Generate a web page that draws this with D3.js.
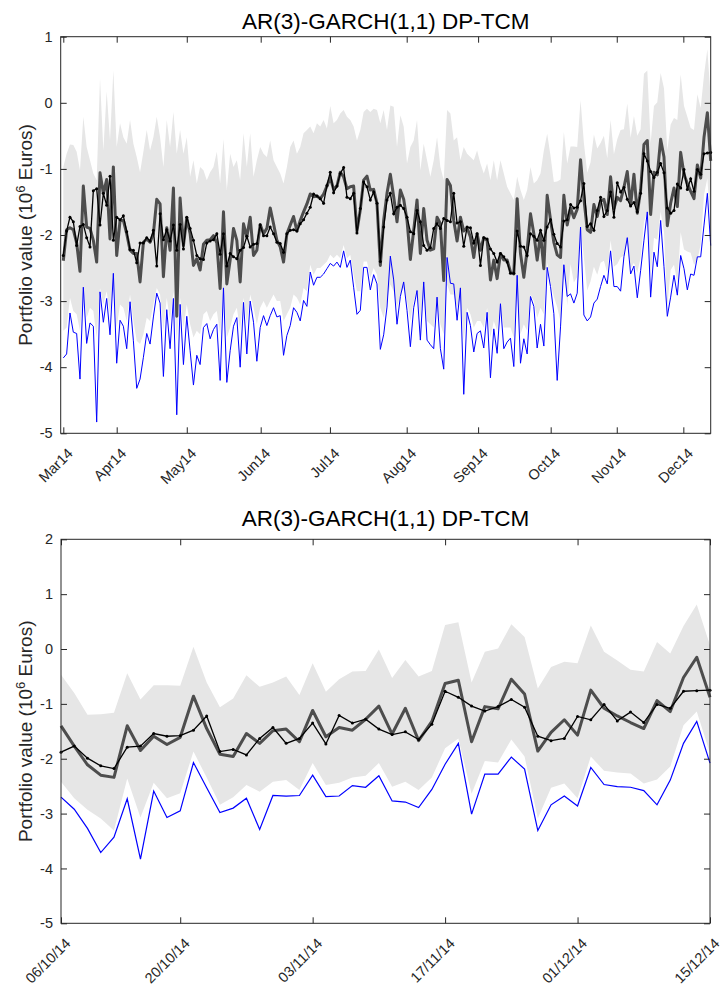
<!DOCTYPE html>
<html>
<head>
<meta charset="utf-8">
<script src="https://cdn.jsdelivr.net/npm/d3@7"></script>
<style>
  body { margin: 0; background: #fff; }
  text { font-family: "Liberation Sans", Arial, Helvetica, sans-serif; }
</style>
</head>
<body>
<div id="container"></div>
<script>
// ---- zoomed panel: 06/10/14 .. 15/12/14 (last 50 trading days) ----
const zoomTickPos = [0, 9, 19, 29, 39, 49];
const zoomTickLabels = ["06/10/14", "20/10/14", "03/11/14", "17/11/14", "01/12/14", "15/12/14"];

const zoomUpper = [-0.47, -0.80, -1.20, -1.19, -1.16, -0.44, -0.92, -0.66, -0.66, -0.67,
  0.04, -0.61, -1.06, -0.90, -0.48, -0.69, -0.61, -0.50, -0.84, -0.26,
  -0.78, -0.55, -0.41, -0.40, -0.01, -0.53, -0.20, -0.50, -0.40, 0.44,
  0.49, -0.61, -0.05, 0.01, 0.45, 0.22, -0.72, -0.33, -0.23, -0.26,
  0.43, -0.05, -0.21, -0.38, -0.41, 0.13, -0.08, 0.42, 0.81, 0.07];

const zoomLower = [-2.42, -2.72, -2.93, -3.09, -3.31, -2.36, -3.07, -2.44, -2.72, -2.63,
  -1.87, -2.34, -2.84, -2.70, -2.48, -2.60, -2.42, -2.39, -2.57, -2.08,
  -2.48, -2.44, -2.34, -2.31, -2.08, -2.51, -2.42, -2.57, -2.34, -1.81,
  -1.63, -2.64, -2.04, -2.07, -1.65, -1.96, -3.09, -2.53, -2.45, -2.72,
  -1.96, -2.22, -2.25, -2.27, -2.45, -2.38, -2.14, -1.39, -1.14, -1.90];

const zoomActual = [-1.40, -1.77, -2.11, -2.30, -2.34, -1.40, -1.85, -1.59, -1.74, -1.61,
  -0.86, -1.45, -1.92, -1.96, -1.54, -1.72, -1.49, -1.46, -1.69, -1.12,
  -1.60, -1.43, -1.48, -1.28, -1.04, -1.55, -1.08, -1.67, -1.32, -0.63,
  -0.57, -1.69, -1.05, -1.09, -0.55, -0.82, -1.86, -1.52, -1.29, -1.57,
  -0.75, -1.08, -1.22, -1.34, -1.45, -0.94, -1.14, -0.52, -0.15, -0.88];

const zoomMean = [-1.88, -1.77, -1.99, -2.13, -2.18, -1.79, -1.77, -1.54, -1.59, -1.58,
  -1.48, -1.22, -1.87, -1.83, -1.93, -1.63, -1.43, -1.72, -1.63, -1.35,
  -1.73, -1.21, -1.35, -1.28, -1.46, -1.56, -1.51, -1.65, -1.37, -0.77,
  -0.88, -1.04, -1.13, -1.05, -0.92, -1.06, -1.59, -1.67, -1.63, -1.23,
  -1.29, -1.01, -1.31, -1.15, -1.34, -1.01, -1.08, -0.77, -0.76, -0.75];

const zoomVaR = [-2.70, -2.92, -3.27, -3.71, -3.43, -2.73, -3.83, -2.59, -3.07, -2.95,
  -2.07, -2.53, -2.98, -2.90, -2.72, -3.29, -2.67, -2.68, -2.67, -2.30,
  -2.69, -2.68, -2.49, -2.52, -2.31, -2.77, -2.79, -2.89, -2.56, -2.10,
  -1.72, -3.01, -2.28, -2.28, -1.97, -2.19, -3.31, -2.84, -2.68, -2.86,
  -2.16, -2.47, -2.51, -2.52, -2.58, -2.84, -2.39, -1.72, -1.32, -2.08];

// ---- full panel: Mar14 .. Dec14, first 145 days (the rest is the zoomed window) ----
const fullTickPos = [0, 16, 37, 59.15, 79.9, 102.9, 124.3, 146.05, 165.85, 185.8];
const fullTickLabels = ["Mar14", "Apr14", "May14", "Jun14", "Jul14", "Aug14", "Sep14", "Oct14", "Nov14", "Dec14"];

const fullUpperHead = [-0.97, -0.77, -0.63, -0.64, -0.74, -1.02, -0.21, -0.67, -0.87, -1.07,
  -1.17, 0.37, -0.72, 0.17, -0.57, 0.49, -0.67, -0.31, -0.52, -0.62,
  -0.26, -0.62, -0.82, -1.05, -0.74, -0.41, -0.72, -0.52, -0.21, -0.52,
  -0.97, -0.26, -0.67, -0.14, -0.77, -0.41, -0.77, -0.52, -1.12, -0.87,
  -1.22, -0.97, -1.02, -1.17, -1.05, -0.97, -0.74, -1.22, -0.55, -1.32,
  -0.77, -0.97, -0.87, -1.17, -0.46, -0.97, -0.46, -1.12, -0.87, -0.67,
  -0.77, -0.82, -0.57, -0.87, -0.97, -1.07, -1.22, -0.97, -0.67, -0.57,
  -0.77, -0.67, -0.46, -0.41, -0.36, -0.46, -0.31, -0.36, -0.26, -0.39,
  -0.05, -0.31, -0.26, -0.16, -0.11, -0.21, -0.26, -0.36, -0.57, -0.41,
  -0.14, -0.09, -0.14, -0.09, -0.11, -0.31, -0.11, -0.41, -0.04, -0.06,
  -0.67, -0.19, -0.36, -0.92, -0.67, -0.57, -0.26, -1.02, -0.62, -0.87,
  -1.12, -0.87, -0.52, -0.97, -1.17, -0.11, -0.16, -0.57, -0.52, -0.87,
  -0.67, -0.77, -0.82, -0.87, -0.72, -0.92, -1.07, -0.92, -1.17, -0.87,
  -1.17, -0.87, -1.07, -1.27, -1.37, -1.47, -1.12, -1.32, -1.47, -1.32,
  -0.97, -1.22, -1.17, -1.07, -0.72];

const fullLowerHead = [-3.45, -3.40, -2.95, -3.15, -3.20, -3.45, -2.85, -3.25, -3.10, -3.15,
  -3.55, -2.80, -3.05, -2.85, -3.20, -2.70, -3.40, -3.05, -3.10, -3.30,
  -2.90, -3.30, -3.60, -3.65, -3.50, -3.25, -3.30, -3.05, -2.80, -2.90,
  -3.45, -2.95, -3.30, -2.85, -3.60, -2.95, -3.40, -3.05, -3.35, -3.55,
  -3.45, -3.50, -3.20, -3.15, -3.30, -3.20, -3.15, -3.50, -2.80, -3.55,
  -3.40, -3.20, -3.10, -3.45, -2.95, -3.35, -2.90, -3.10, -3.35, -3.10,
  -3.00, -3.10, -3.00, -2.90, -3.00, -3.00, -3.30, -3.20, -3.10, -2.90,
  -2.95, -3.05, -2.80, -2.85, -2.45, -2.60, -2.50, -2.50, -2.45, -2.40,
  -2.30, -2.35, -2.30, -2.35, -2.15, -2.35, -2.30, -2.60, -2.85, -2.85,
  -2.40, -2.40, -2.65, -2.50, -2.60, -3.10, -3.25, -3.00, -2.75, -2.85,
  -3.10, -2.90, -2.80, -3.00, -3.30, -3.00, -2.85, -3.25, -2.85, -3.30,
  -3.35, -3.40, -3.00, -3.35, -3.50, -2.75, -2.90, -2.90, -3.10, -2.95,
  -3.60, -3.10, -3.20, -3.40, -3.30, -3.30, -3.40, -3.10, -3.55, -3.30,
  -3.45, -3.05, -3.40, -3.40, -3.40, -3.55, -2.85, -3.50, -3.35, -3.45,
  -2.90, -3.00, -3.25, -3.10, -3.20];

const fullActualHead = [-2.39, -1.92, -1.89, -1.92, -2.12, -2.55, -1.26, -1.88, -1.90, -2.08,
  -2.41, -1.06, -1.37, -1.16, -2.06, -0.97, -2.31, -1.78, -1.78, -1.98,
  -2.23, -2.28, -2.28, -2.71, -2.11, -2.06, -2.11, -1.98, -1.46, -1.53,
  -2.63, -1.89, -2.23, -1.29, -3.23, -1.44, -2.16, -1.74, -1.98, -2.46,
  -2.36, -2.53, -2.14, -2.08, -2.07, -2.01, -2.12, -2.81, -1.65, -2.74,
  -2.38, -1.90, -2.08, -2.71, -1.83, -2.03, -1.73, -2.31, -2.23, -1.84,
  -1.98, -1.90, -1.59, -1.83, -2.08, -2.18, -2.41, -1.98, -1.85, -1.72,
  -1.94, -1.78, -1.65, -1.53, -1.38, -1.42, -1.41, -1.45, -1.38, -1.26,
  -1.13, -1.31, -1.26, -1.05, -1.12, -1.30, -1.27, -1.26, -1.94, -1.62,
  -1.17, -1.11, -1.32, -1.31, -1.52, -2.46, -1.78, -1.37, -1.08, -1.42,
  -1.80, -1.32, -1.46, -1.78, -2.37, -1.93, -1.47, -2.28, -1.60, -2.08,
  -2.23, -2.21, -1.73, -1.83, -2.69, -1.16, -1.25, -1.78, -2.09, -1.73,
  -1.94, -1.89, -2.03, -2.34, -1.98, -2.23, -2.04, -2.08, -2.68, -2.38,
  -2.66, -2.28, -2.38, -2.38, -2.56, -2.59, -1.45, -2.28, -2.64, -2.23,
  -1.68, -1.98, -2.38, -1.98, -2.51];

const fullMeanHead = [-2.31, -1.94, -1.73, -1.80, -2.16, -1.87, -1.84, -2.04, -2.18, -1.33,
  -1.30, -1.85, -1.37, -1.55, -1.11, -2.08, -1.73, -1.77, -1.71, -1.95,
  -2.22, -2.23, -2.42, -2.12, -2.12, -2.04, -2.09, -1.93, -2.47, -1.68,
  -2.07, -1.92, -2.09, -1.85, -2.23, -1.84, -2.21, -1.73, -1.90, -2.08,
  -2.31, -2.36, -2.37, -2.12, -2.09, -2.07, -1.98, -2.29, -1.98, -2.47,
  -2.28, -2.33, -2.36, -2.23, -2.19, -2.02, -2.18, -2.14, -2.13, -1.85,
  -2.01, -2.01, -1.88, -1.98, -2.11, -2.13, -2.26, -1.98, -1.93, -1.92,
  -1.94, -1.83, -1.77, -1.67, -1.58, -1.38, -1.41, -1.45, -1.52, -1.25,
  -1.05, -1.36, -1.26, -1.07, -0.98, -1.43, -1.45, -1.37, -1.97, -1.60,
  -1.20, -1.27, -1.47, -1.35, -1.52, -2.40, -1.88, -1.47, -1.37, -1.68,
  -1.58, -1.55, -1.60, -1.73, -1.95, -1.98, -1.63, -1.80, -2.16, -2.23,
  -2.19, -1.90, -1.83, -1.90, -1.75, -1.78, -1.80, -1.37, -1.82, -1.80,
  -2.17, -1.88, -1.89, -2.12, -1.98, -2.46, -2.04, -2.06, -2.21, -2.28,
  -2.41, -2.28, -2.33, -2.41, -2.58, -2.58, -1.94, -2.17, -2.18, -2.31,
  -1.98, -2.02, -2.08, -1.93, -2.08];

const fullVaR = [-3.86, -3.80, -3.18, -3.47, -3.49, -4.18, -2.79, -3.64, -3.33, -3.38,
  -4.83, -2.86, -3.32, -2.96, -3.51, -2.58, -3.94, -3.29, -3.38, -3.72,
  -3.01, -3.60, -4.32, -4.18, -3.85, -3.49, -3.65, -3.24, -2.88, -3.03,
  -4.14, -3.13, -3.72, -2.96, -4.72, -3.05, -3.96, -3.23, -3.75, -4.27,
  -3.82, -3.96, -3.40, -3.34, -3.57, -3.43, -3.35, -4.20, -2.80, -4.23,
  -3.75, -3.38, -3.25, -4.00, -3.02, -3.80, -3.00, -3.32, -3.91, -3.40,
  -3.22, -3.37, -3.22, -3.10, -3.24, -3.22, -3.82, -3.52, -3.37, -3.10,
  -3.17, -3.30, -2.99, -3.08, -2.56, -2.76, -2.64, -2.64, -2.59, -2.51,
  -2.43, -2.47, -2.41, -2.49, -2.24, -2.49, -2.38, -2.79, -3.20, -3.14,
  -2.49, -2.49, -2.83, -2.60, -2.74, -3.73, -3.51, -3.09, -2.32, -2.68,
  -3.35, -2.93, -2.71, -3.14, -3.69, -3.10, -2.84, -3.59, -2.71, -3.59,
  -3.66, -3.72, -2.94, -3.72, -4.03, -2.34, -2.73, -2.74, -3.29, -2.80,
  -4.41, -3.17, -3.37, -3.77, -3.49, -3.45, -3.71, -3.17, -4.16, -3.42,
  -3.79, -3.04, -3.72, -3.62, -3.56, -3.99, -2.61, -3.94, -3.57, -3.80,
  -2.93, -3.08, -3.71, -3.35, -3.68, -2.49, -2.78, -3.19, -4.20, -3.39,
  -2.45, -2.93, -2.89, -3.03, -2.88, -1.88, -3.21, -3.30, -3.24, -3.03,
  -2.97, -2.78, -2.61, -2.74, -2.24, -2.78, -2.78, -2.85, -2.33, -2.04,
  -2.59, -2.47, -2.95, -2.54, -2.08, -1.65, -2.94, -2.26, -2.48, -1.78,
  -2.48, -3.23, -2.94, -2.61, -2.91, -2.31, -2.51, -2.83, -2.59, -2.61,
  -2.33, -2.33, -1.85, -1.37, -2.16];

const title = "AR(3)-GARCH(1,1) DP-TCM";

const svg = d3.select("#container").append("svg")
  .attr("width", 722)
  .attr("height", 987);

const axisColor = "#262626";

function drawPanel(p) {
  const g = svg.append("g");
  const n = p.upper.length;
  const x = d3.scaleLinear().domain([p.xStart, n - 1]).range([p.left, p.right]);
  const y = d3.scaleLinear().domain(p.yDomain).range([p.bottom, p.top]);

  // forecast interval
  g.append("path")
    .datum(d3.range(n))
    .attr("fill", "#e6e6e6")
    .attr("d", d3.area()
      .x((i) => x(i))
      .y0((i) => y(p.lower[i]))
      .y1((i) => y(p.upper[i])));

  const line = d3.line().x((d, i) => x(i)).y((d) => y(d));

  g.append("path")
    .attr("d", line(p.actual))
    .attr("fill", "none")
    .attr("stroke", "#4d4d4d")
    .attr("stroke-width", 3)
    .attr("stroke-linejoin", "round");

  g.append("path")
    .attr("d", line(p.mean))
    .attr("fill", "none")
    .attr("stroke", "#000")
    .attr("stroke-width", 1.3);

  g.selectAll(".dot")
    .data(p.mean)
    .enter()
    .append("circle")
    .attr("cx", (d, i) => x(i))
    .attr("cy", (d) => y(d))
    .attr("r", 1.5)
    .attr("fill", "#000");

  g.append("path")
    .attr("d", line(p.var))
    .attr("fill", "none")
    .attr("stroke", "#0000ff")
    .attr("stroke-width", p.varWidth);

  // axes, ticks pointing inward on all four sides
  const yTicks = d3.range(p.yDomain[0], p.yDomain[1] + 1);

  const left = g.append("g")
    .attr("transform", `translate(${p.left},0)`)
    .call(d3.axisLeft(y).tickValues(yTicks).tickSize(-6).tickSizeOuter(0).tickPadding(8)
      .tickFormat((d) => String(d)));
  g.append("g")
    .attr("transform", `translate(${p.right},0)`)
    .call(d3.axisRight(y).tickValues(yTicks).tickSize(-6).tickSizeOuter(0).tickFormat(""));
  const bottom = g.append("g")
    .attr("transform", `translate(0,${p.bottom})`)
    .call(d3.axisBottom(x).tickValues(p.ticks).tickSize(-6).tickSizeOuter(0)
      .tickFormat((d, i) => p.tickLabels[i]));
  g.append("g")
    .attr("transform", `translate(0,${p.top})`)
    .call(d3.axisTop(x).tickValues(p.ticks).tickSize(-6).tickSizeOuter(0).tickFormat(""));

  g.selectAll(".domain").remove();
  g.selectAll(".tick line").attr("stroke", axisColor);

  left.selectAll("text")
    .attr("font-size", 14.5)
    .attr("fill", axisColor);

  bottom.selectAll("text")
    .attr("font-size", 14.5)
    .attr("fill", axisColor)
    .attr("text-anchor", "end")
    .attr("x", 0).attr("y", 0).attr("dy", 0)
    .attr("transform", "translate(10,21) rotate(-45)");

  g.append("rect")
    .attr("x", p.left)
    .attr("y", p.top)
    .attr("width", p.right - p.left)
    .attr("height", p.bottom - p.top)
    .attr("fill", "none")
    .attr("stroke", axisColor)
    .attr("stroke-width", 1);

  g.append("text")
    .attr("x", (p.left + p.right) / 2)
    .attr("y", p.titleY)
    .attr("text-anchor", "middle")
    .attr("font-size", 22.5)
    .attr("fill", "#000")
    .text(title);

  const yl = g.append("text")
    .attr("transform", `translate(32,${(p.top + p.bottom) / 2}) rotate(-90)`)
    .attr("text-anchor", "middle")
    .attr("font-size", 19)
    .attr("fill", axisColor);
  yl.append("tspan").text("Portfolio value (10");
  yl.append("tspan").attr("dy", -7).attr("font-size", 13).text("6");
  yl.append("tspan").attr("dy", 7).text(" Euros)");
}

drawPanel({
  upper: fullUpperHead.concat(zoomUpper),
  lower: fullLowerHead.concat(zoomLower),
  actual: fullActualHead.concat(zoomActual),
  mean: fullMeanHead.concat(zoomMean),
  var: fullVaR,
  varWidth: 1,
  xStart: -0.78,
  ticks: fullTickPos,
  tickLabels: fullTickLabels,
  yDomain: [-5, 1],
  left: 60.7, right: 710.7, top: 36.7, bottom: 433.3,
  titleY: 29
});

drawPanel({
  upper: zoomUpper,
  lower: zoomLower,
  actual: zoomActual,
  mean: zoomMean,
  var: zoomVaR,
  varWidth: 1.2,
  xStart: 0,
  ticks: zoomTickPos,
  tickLabels: zoomTickLabels,
  yDomain: [-5, 2],
  left: 61, right: 710, top: 539.3, bottom: 923.3,
  titleY: 526
});
</script>
</body>
</html>
